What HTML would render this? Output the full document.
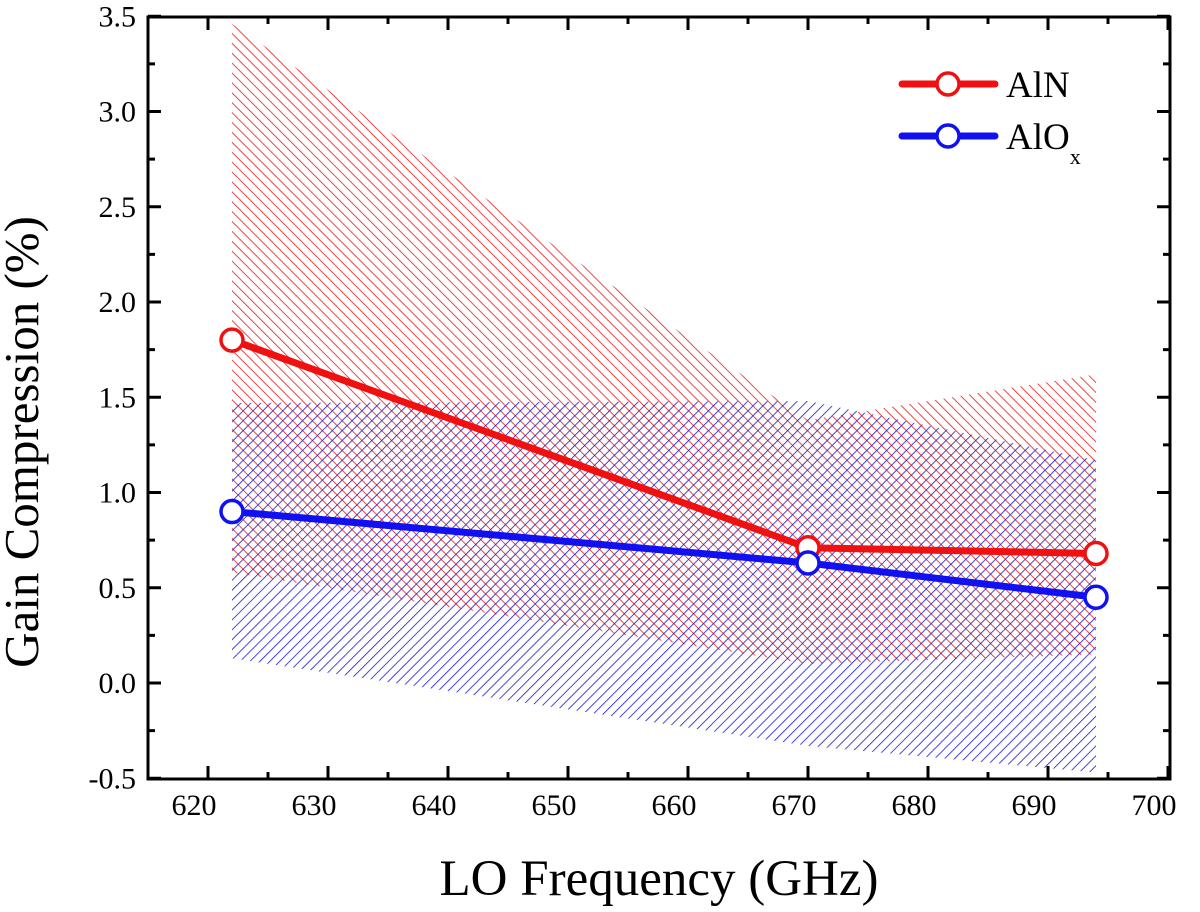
<!DOCTYPE html>
<html><head><meta charset="utf-8"><style>
html,body{margin:0;padding:0;background:#fff;}
svg{display:block;font-family:"Liberation Serif",serif;}
</style></head><body>
<svg width="1200" height="912">
<defs>
<pattern id="hatchRed" patternUnits="userSpaceOnUse" width="7" height="7" patternTransform="rotate(-45)">
<line x1="0" y1="0" x2="0" y2="7" stroke="#e81818" stroke-width="1.6"/></pattern>
<pattern id="hatchBlue" patternUnits="userSpaceOnUse" width="7" height="7" patternTransform="rotate(45)">
<line x1="0" y1="0" x2="0" y2="7" stroke="#1818d8" stroke-width="1.6"/></pattern>
<clipPath id="plotClip"><rect x="148" y="17" width="1022" height="762"/></clipPath>
</defs>
<g id="bands" clip-path="url(#plotClip)"></g>
<g id="lines" clip-path="url(#plotClip)"></g>
<rect x="148" y="17" width="1022" height="762" fill="none" stroke="#000" stroke-width="3"/>
<g id="axes"></g>
<text x="38" y="442" font-size="49" text-anchor="middle" transform="rotate(-90 38 442)">Gain Compression (%)</text>
<text x="659" y="895" font-size="51" text-anchor="middle">LO Frequency (GHz)</text>
<g>
<line x1="902" y1="84" x2="995" y2="84" stroke="#f01010" stroke-width="7" stroke-linecap="round"/>
<circle cx="948" cy="84" r="11" fill="#fff" stroke="#f01010" stroke-width="3.5"/>
<text x="1006" y="97" font-size="37">AlN</text>
<line x1="902" y1="136" x2="995" y2="136" stroke="#1010f0" stroke-width="7" stroke-linecap="round"/>
<circle cx="948" cy="136" r="11" fill="#fff" stroke="#1010f0" stroke-width="3.5"/>
<text x="1006" y="149" font-size="37">AlO<tspan font-size="22" dy="15">x</tspan></text>
</g>
</svg>
<script>
const freqs=[622,670,694];
const alnVals=[1.80,0.71,0.68];
const aloxVals=[0.90,0.63,0.45];
const alnUpper=[3.46,1.38,1.62];
const alnLower=[0.58,0.10,0.15];
const aloxUpper=[1.47,1.48,1.17];
const aloxLower=[0.13,-0.33,-0.47];
const xTicks=[620,630,640,650,660,670,680,690,700];
const yTicks=[-0.5,0,0.5,1,1.5,2,2.5,3,3.5];
const yTickLabels=["-0.5","0.0","0.5","1.0","1.5","2.0","2.5","3.0","3.5"];
const NS="http://www.w3.org/2000/svg";
function X(v){return 208+(v-620)*12.0;}
function Y(v){return 683-v*190.5;}
function mk(tag,attrs,parent){const e=document.createElementNS(NS,tag);for(const k in attrs)e.setAttribute(k,attrs[k]);parent.appendChild(e);return e;}
const bands=document.getElementById('bands'),lines=document.getElementById('lines'),axes=document.getElementById('axes');
function band(up,lo,fill,name){
  let pts=freqs.map((f,i)=>X(f)+','+Y(up[i]));
  for(let i=freqs.length-1;i>=0;i--)pts.push(X(freqs[i])+','+Y(lo[i]));
  const p=mk('polygon',{points:pts.join(' '),fill:fill},bands);
  
  
}
band(alnUpper,alnLower,'url(#hatchRed)','aln-error-band');
band(aloxUpper,aloxLower,'url(#hatchBlue)','alox-error-band');
function series(vals,color,name){
  const pl=mk('polyline',{points:freqs.map((f,i)=>X(f)+','+Y(vals[i])).join(' '),fill:'none',stroke:color,'stroke-width':7,'stroke-linejoin':'round'},lines);
  
  
  freqs.forEach((f,i)=>{
    const c=mk('circle',{cx:X(f),cy:Y(vals[i]),r:11,fill:'#fff',stroke:color,'stroke-width':3.5},lines);
    
    
  });
}
series(alnVals,'#f01010','aln');
series(aloxVals,'#1010f0','alox');
xTicks.forEach(t=>{
  const x=X(t);
  mk('line',{x1:x,y1:779,x2:x,y2:766,stroke:'#000','stroke-width':3},axes);
  mk('line',{x1:x,y1:17,x2:x,y2:30,stroke:'#000','stroke-width':3},axes);
  if(t<700){const m=X(t+5);
    mk('line',{x1:m,y1:779,x2:m,y2:772,stroke:'#000','stroke-width':3},axes);
    mk('line',{x1:m,y1:17,x2:m,y2:24,stroke:'#000','stroke-width':3},axes);}
  const tx=mk('text',{x:x-14,y:815,'font-size':30,'text-anchor':'middle'},axes);
  tx.textContent=t;
  
  
});
yTicks.forEach((t,i)=>{
  const y=Y(t);
  mk('line',{x1:148,y1:y,x2:161,y2:y,stroke:'#000','stroke-width':3},axes);
  mk('line',{x1:1170,y1:y,x2:1157,y2:y,stroke:'#000','stroke-width':3},axes);
  if(i<yTicks.length-1){const m=Y(t+0.25);
    mk('line',{x1:148,y1:m,x2:155,y2:m,stroke:'#000','stroke-width':3},axes);
    mk('line',{x1:1170,y1:m,x2:1163,y2:m,stroke:'#000','stroke-width':3},axes);}
  const tx=mk('text',{x:136,y:y+10,'font-size':30,'text-anchor':'end'},axes);
  tx.textContent=yTickLabels[i];
  
  
});
</script>
</body></html>
